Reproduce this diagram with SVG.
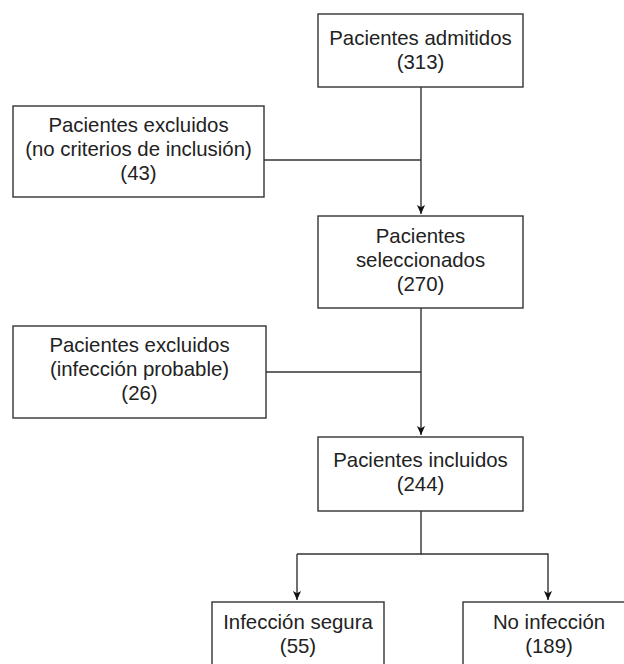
<svg xmlns="http://www.w3.org/2000/svg" width="624" height="664" viewBox="0 0 624 664">
<defs>
<marker id="ah" markerWidth="9" markerHeight="12" refX="10" refY="4.5" orient="auto" markerUnits="userSpaceOnUse" viewBox="0 0 10 9">
<path d="M0,0 L10,4.5 L0,9 L2.5,4.5 Z" fill="#111"/>
</marker>
<style>
.box{fill:#fff;stroke:#333;stroke-width:1.4}
.ln{fill:none;stroke:#333;stroke-width:1.4}
text{font-family:"Liberation Sans",Arial,sans-serif;font-size:20.4px;fill:#222;text-anchor:middle}
</style>
</defs>
<rect width="624" height="664" fill="#fff"/>
<g id="connectors">
<line class="ln" x1="421" y1="87" x2="421" y2="214" marker-end="url(#ah)"/>
<line class="ln" x1="264" y1="160" x2="421" y2="160"/>
<line class="ln" x1="421" y1="308" x2="421" y2="435" marker-end="url(#ah)"/>
<line class="ln" x1="266" y1="372" x2="421" y2="372"/>
<polyline class="ln" points="421,511 421,554 297,554"/>
<line class="ln" x1="297" y1="554" x2="297" y2="600" marker-end="url(#ah)"/>
<polyline class="ln" points="421,554 548,554 548,600" marker-end="url(#ah)"/>
</g>
<g id="admitidos">
<rect class="box" x="318" y="14" width="205" height="73"/>
<text x="420.5" y="45">Pacientes admitidos</text>
<text x="420.5" y="69">(313)</text>
</g>
<g id="excluidos1">
<rect class="box" x="13" y="106" width="251" height="91"/>
<text x="138.5" y="132">Pacientes excluidos</text>
<text x="138.5" y="156">(no criterios de inclusión)</text>
<text x="138.5" y="180">(43)</text>
</g>
<g id="seleccionados">
<rect class="box" x="318" y="216" width="205" height="92"/>
<text x="420.5" y="243">Pacientes</text>
<text x="420.5" y="267">seleccionados</text>
<text x="420.5" y="291">(270)</text>
</g>
<g id="excluidos2">
<rect class="box" x="13" y="326" width="253" height="92"/>
<text x="139.5" y="352">Pacientes excluidos</text>
<text x="139.5" y="376">(infección probable)</text>
<text x="139.5" y="400">(26)</text>
</g>
<g id="incluidos">
<rect class="box" x="318" y="437" width="205" height="74"/>
<text x="420.5" y="467">Pacientes incluidos</text>
<text x="420.5" y="491">(244)</text>
</g>
<g id="segura">
<rect class="box" x="212" y="602" width="172" height="80"/>
<text x="298" y="629">Infección segura</text>
<text x="298" y="653">(55)</text>
</g>
<g id="noinfeccion">
<rect class="box" x="463" y="602" width="172" height="80"/>
<text x="549" y="629">No infección</text>
<text x="549" y="653">(189)</text>
</g>
</svg>
